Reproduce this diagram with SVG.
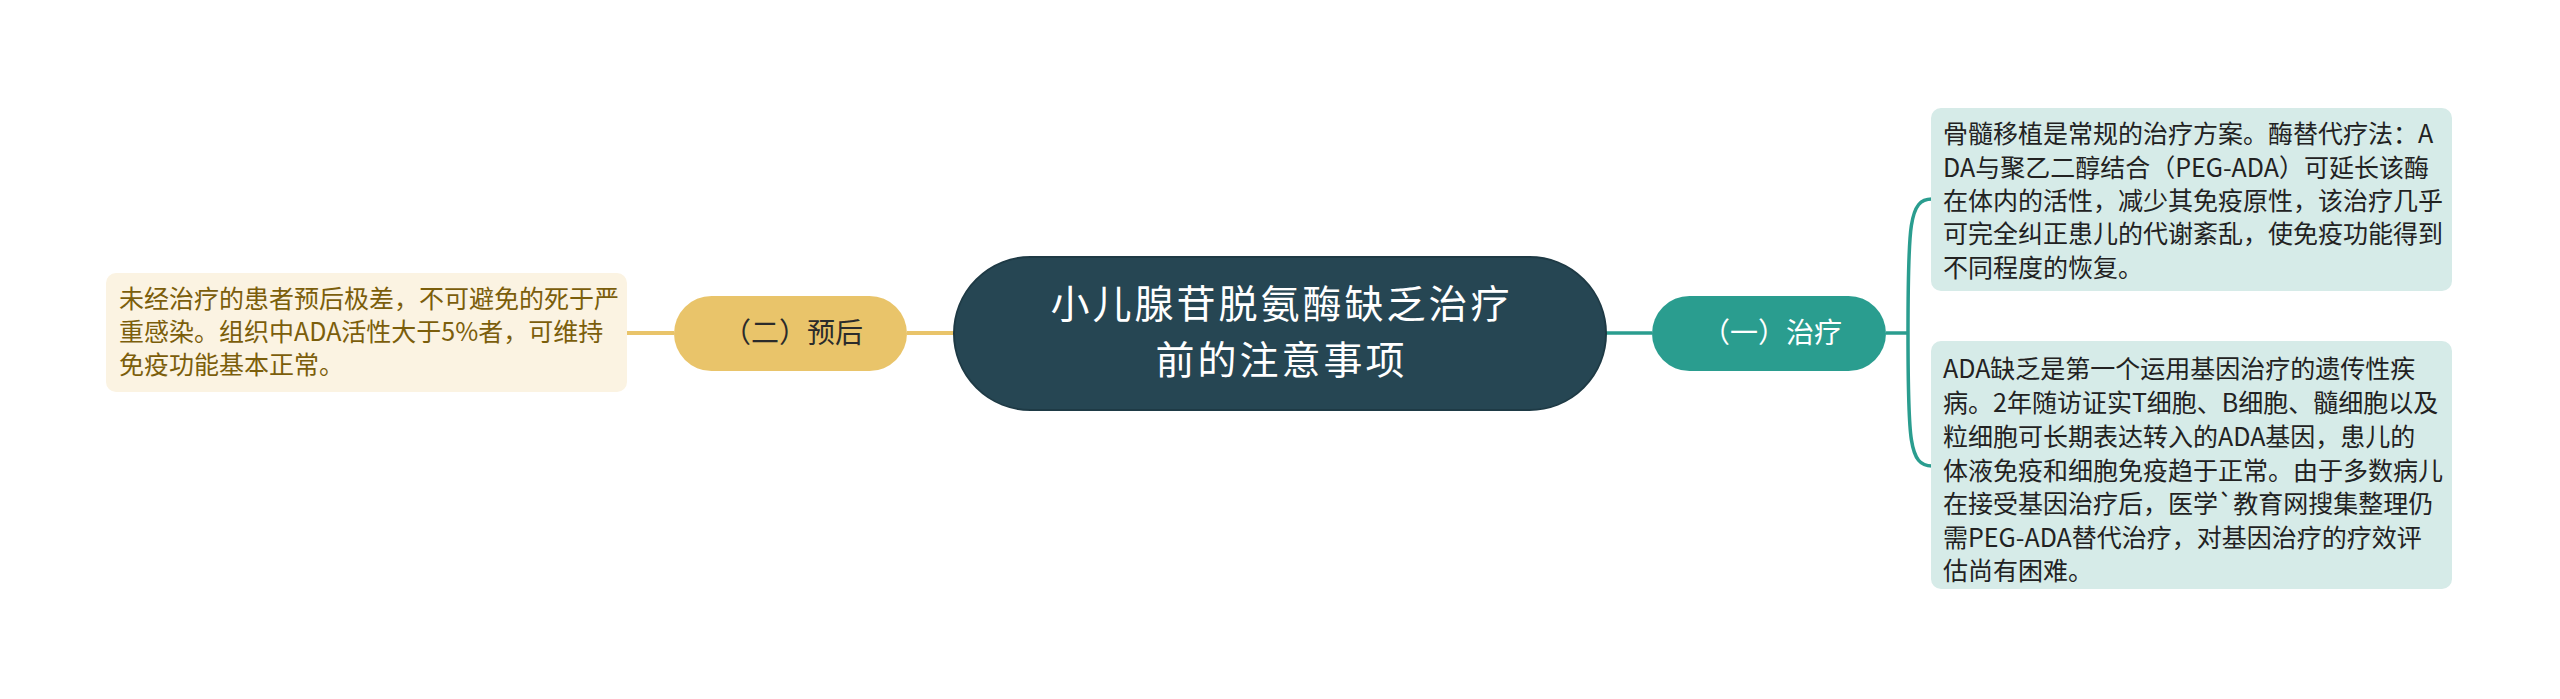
<svg xmlns="http://www.w3.org/2000/svg" width="2560" height="699" viewBox="0 0 2560 699">
<style>
text { font-family: "Noto Sans CJK SC", "Noto Sans", sans-serif; }
.root-shape { fill: #264653; stroke: #1e3a45; stroke-width: 2; }
.root-text { fill: #ffffff; font-size: 39px; letter-spacing: 3px; text-anchor: middle; }
.teal-shape { fill: #2a9d8f; }
.teal-text { fill: #ffffff; font-size: 28px; text-anchor: middle; }
.gold-shape { fill: #e9c46a; }
.gold-text { fill: #2b2b2b; font-size: 28px; text-anchor: middle; }
.teal-leaf { fill: #d6ebe8; }
.teal-leaf-text { fill: #222222; font-size: 25px; }
.gold-leaf { fill: #fbf3e2; }
.gold-leaf-text { fill: #7b5e0b; font-size: 25px; }
.teal-line { fill: none; stroke: #2a9d8f; stroke-width: 3.5; }
.gold-line { fill: none; stroke: #e9c46a; stroke-width: 4; }
</style>
<rect width="2560" height="699" fill="#ffffff"/>
<g id="connectors">
  <path class="teal-line" d="M1606,333 L1652,333"/>
  <path class="teal-line" d="M1886,333 L1908,333"/>
  <path class="teal-line" d="M1908,333 C1908,225 1909,199 1932,199"/>
  <path class="teal-line" d="M1908,333 C1908,440 1909,466 1932,466"/>
  <path class="gold-line" d="M907,333 L954,333"/>
  <path class="gold-line" d="M627,333 L674,333"/>
</g>
<g id="root">
  <rect class="root-shape" x="954" y="257" width="652" height="153" rx="76.5"/>
  <text class="root-text" x="1281.5" y="318">小儿腺苷脱氨酶缺乏治疗</text>
  <text class="root-text" x="1281.5" y="374">前的注意事项</text>
</g>
<g id="node-treatment">
  <rect class="teal-shape" x="1652" y="296" width="234" height="75" rx="37.5"/>
  <text class="teal-text" x="1772" y="343">（一）治疗</text>
</g>
<g id="node-prognosis">
  <rect class="gold-shape" x="674" y="296" width="233" height="75" rx="37.5"/>
  <text class="gold-text" x="793" y="343">（二）预后</text>
</g>
<g id="leaf-treatment-1">
  <rect class="teal-leaf" x="1931" y="108" width="521" height="183" rx="10"/>
  <text class="teal-leaf-text" x="1943" y="143">骨髓移植是常规的治疗方案。酶替代疗法：A</text>
  <text class="teal-leaf-text" x="1943" y="177">DA与聚乙二醇结合（PEG-ADA）可延长该酶</text>
  <text class="teal-leaf-text" x="1943" y="210">在体内的活性，减少其免疫原性，该治疗几乎</text>
  <text class="teal-leaf-text" x="1943" y="243">可完全纠正患儿的代谢紊乱，使免疫功能得到</text>
  <text class="teal-leaf-text" x="1943" y="277">不同程度的恢复。</text>
</g>
<g id="leaf-treatment-2">
  <rect class="teal-leaf" x="1931" y="341" width="521" height="248" rx="10"/>
  <text class="teal-leaf-text" x="1943" y="378">ADA缺乏是第一个运用基因治疗的遗传性疾</text>
  <text class="teal-leaf-text" x="1943" y="412">病。2年随访证实T细胞、B细胞、髓细胞以及</text>
  <text class="teal-leaf-text" x="1943" y="446">粒细胞可长期表达转入的ADA基因，患儿的</text>
  <text class="teal-leaf-text" x="1943" y="480">体液免疫和细胞免疫趋于正常。由于多数病儿</text>
  <text class="teal-leaf-text" x="1943" y="513">在接受基因治疗后，医学`教育网搜集整理仍</text>
  <text class="teal-leaf-text" x="1943" y="547">需PEG-ADA替代治疗，对基因治疗的疗效评</text>
  <text class="teal-leaf-text" x="1943" y="580">估尚有困难。</text>
</g>
<g id="leaf-prognosis">
  <rect class="gold-leaf" x="106" y="273" width="521" height="119" rx="10"/>
  <text class="gold-leaf-text" x="119" y="308">未经治疗的患者预后极差，不可避免的死于严</text>
  <text class="gold-leaf-text" x="119" y="341">重感染。组织中ADA活性大于5%者，可维持</text>
  <text class="gold-leaf-text" x="119" y="374">免疫功能基本正常。</text>
</g>
</svg>
